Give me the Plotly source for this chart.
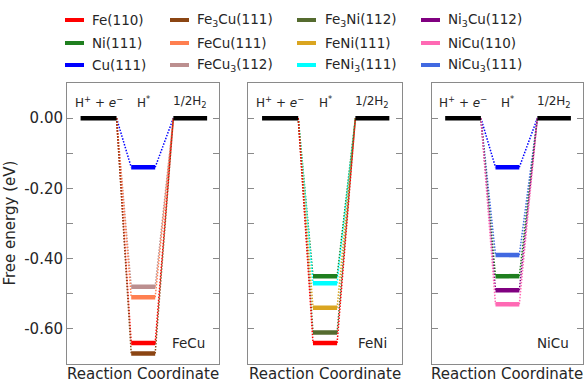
import plotly.graph_objects as go

# ---------------- data ----------------
surfaces = ["Fe(110)", "Ni(111)", "Cu(111)", "Fe3Cu(111)", "FeCu(111)", "FeCu3(112)",
            "Fe3Ni(112)", "FeNi(111)", "FeNi3(111)", "Ni3Cu(112)", "NiCu(110)", "NiCu3(111)"]
legend_labels = ["Fe(110)", "Ni(111)", "Cu(111)",
                 "Fe<sub>3</sub>Cu(111)", "FeCu(111)", "FeCu<sub>3</sub>(112)",
                 "Fe<sub>3</sub>Ni(112)", "FeNi(111)", "FeNi<sub>3</sub>(111)",
                 "Ni<sub>3</sub>Cu(112)", "NiCu(110)", "NiCu<sub>3</sub>(111)"]
dG_H = [-0.64, -0.45, -0.14, -0.67, -0.51, -0.48, -0.61, -0.54, -0.47, -0.49, -0.53, -0.39]
colors = ["#ff0000", "#1f7f1f", "#0000ff", "#8b4513", "#ff7f50", "#bc8f8f",
          "#556b2f", "#daa520", "#00ffff", "#800080", "#ff69b4", "#4169e1"]

panel_names = ["FeCu", "FeNi", "NiCu"]
panel_members = [
    ["Cu(111)", "FeCu3(112)", "FeCu(111)", "Fe(110)", "Fe3Cu(111)"],
    ["Ni(111)", "FeNi3(111)", "FeNi(111)", "Fe3Ni(112)", "Fe(110)"],
    ["Cu(111)", "NiCu3(111)", "Ni(111)", "Ni3Cu(112)", "NiCu(110)"],
]
state_labels = ["H<sup>+</sup> + <i>e</i><sup>−</sup>", "H<sup>*</sup>", "1/2H<sub>2</sub>"]
y_ticks = [-0.6, -0.5, -0.4, -0.3, -0.2, -0.1, 0.0]
y_ticktext = ["-0.60", "", "-0.40", "", "-0.20", "", "0.00"]
y_range = [-0.70, 0.10]

# ---------------- layout constants ----------------
W, H = 584, 392
ML, MR, MT, MB = 67, 1, 83, 28
PW, PH = W - ML - MR, H - MT - MB
panel_px = [(66.7, 219.3), (248.4, 401.6), (431.7, 583.0)]
LEFT_BAR = (13.6, 49.6)
HS_BAR = (64.3, 88.3)
RIGHT_BAR = (106.5, 140.3)
XW = 152.5
TXT = "#262626"
FRAME = "#8a8a8a"
FONT = "DejaVu Sans"


def pxx(x):
    return (x - ML) / PW


def pxy(y):
    return (H - MB - y) / PH


idx = {s: i for i, s in enumerate(surfaces)}
fig = go.Figure()

for p, (name, members) in enumerate(zip(panel_names, panel_members)):
    xa = "x" if p == 0 else f"x{p+1}"
    ya = "y" if p == 0 else f"y{p+1}"
    # dotted connectors
    for s in members:
        i = idx[s]
        e = dG_H[i]
        fig.add_trace(go.Scatter(
            x=[LEFT_BAR[1], HS_BAR[0], None, HS_BAR[1], RIGHT_BAR[0]],
            y=[0, e, None, e, 0], mode="lines", xaxis=xa, yaxis=ya,
            line=dict(color=colors[i], width=1.5, dash="1.5px,1.5px"),
            showlegend=False, hoverinfo="skip"))
    # reference levels
    for bar in (LEFT_BAR, RIGHT_BAR):
        fig.add_trace(go.Scatter(
            x=list(bar), y=[0, 0], mode="lines", xaxis=xa, yaxis=ya,
            line=dict(color="black", width=4.5), showlegend=False, hoverinfo="skip"))
    # H* levels
    for s in members:
        i = idx[s]
        e = dG_H[i]
        fig.add_trace(go.Scatter(
            x=list(HS_BAR), y=[e, e], mode="lines", xaxis=xa, yaxis=ya,
            line=dict(color=colors[i], width=4.5), showlegend=False,
            name=s))
    # state labels
    for bar, lab in zip((LEFT_BAR, HS_BAR, RIGHT_BAR), state_labels):
        fig.add_annotation(x=(bar[0] + bar[1]) / 2, y=0.046, xref=xa, yref=ya,
                           text=lab, showarrow=False, xanchor="center", yanchor="middle",
                           font=dict(size=12, color=TXT, family=FONT))
    # panel name
    fig.add_annotation(x=RIGHT_BAR[1], y=-0.64, xref=xa, yref=ya, text=name,
                       showarrow=False, xanchor="right", yanchor="middle",
                       font=dict(size=13.5, color=TXT, family=FONT))
    # x title
    x0, x1 = panel_px[p]
    fig.add_annotation(x=pxx((x0 + x1) / 2), y=pxy(374), xref="paper", yref="paper",
                       text="Reaction Coordinate", showarrow=False,
                       xanchor="center", yanchor="middle",
                       font=dict(size=15, color=TXT, family=FONT))

# y title
fig.add_annotation(x=pxx(9), y=0.5, xref="paper", yref="paper", text="Free energy (eV)",
                   textangle=-90, showarrow=False, xanchor="center", yanchor="middle",
                   font=dict(size=15, color=TXT, family=FONT))

# manual legend (4 columns x 3 rows, column-major)
col_line_x = [65, 170, 297, 421]
col_text_x = [90, 195, 323, 446]
row_y = [20, 43, 65]
for k, (lab, c) in enumerate(zip(legend_labels, colors)):
    col, row = k // 3, k % 3
    yy = pxy(row_y[row])
    fig.add_shape(type="line", xref="paper", yref="paper",
                  x0=pxx(col_line_x[col]), x1=pxx(col_line_x[col] + 19), y0=yy, y1=yy,
                  line=dict(color=c, width=4))
    fig.add_annotation(x=pxx(col_text_x[col]), y=yy, xref="paper", yref="paper",
                       text=lab, showarrow=False, xanchor="left", yanchor="middle",
                       font=dict(size=13.5, color=TXT, family=FONT))

layout = dict(
    width=W, height=H, margin=dict(l=ML, r=MR, t=MT, b=MB),
    plot_bgcolor="white", paper_bgcolor="white", showlegend=False,
    font=dict(family=FONT, color=TXT),
)
for p in range(3):
    x0, x1 = panel_px[p]
    xk = "xaxis" if p == 0 else f"xaxis{p+1}"
    yk = "yaxis" if p == 0 else f"yaxis{p+1}"
    layout[xk] = dict(domain=[max(0, pxx(x0)), min(1, pxx(x1))], range=[0, XW],
                      showticklabels=False, ticks="", showgrid=False, zeroline=False,
                      showline=True, mirror=True, linecolor=FRAME, linewidth=1,
                      anchor="y" if p == 0 else f"y{p+1}", fixedrange=True)
    layout[yk] = dict(range=y_range, tickvals=y_ticks, ticktext=y_ticktext,
                      showticklabels=(p == 0), ticks="inside", ticklen=6,
                      tickcolor=FRAME, tickwidth=1, showgrid=False, zeroline=False,
                      showline=True, mirror="ticks", linecolor=FRAME, linewidth=1,
                      tickfont=dict(size=15, color=TXT, family=FONT),
                      anchor="x" if p == 0 else f"x{p+1}", fixedrange=True)
fig.update_layout(**layout)

fig.write_html("out.html",
               config={"displayModeBar": False},
               post_script="document.body.style.margin='0';"
                           "document.body.style.overflow='hidden';")
